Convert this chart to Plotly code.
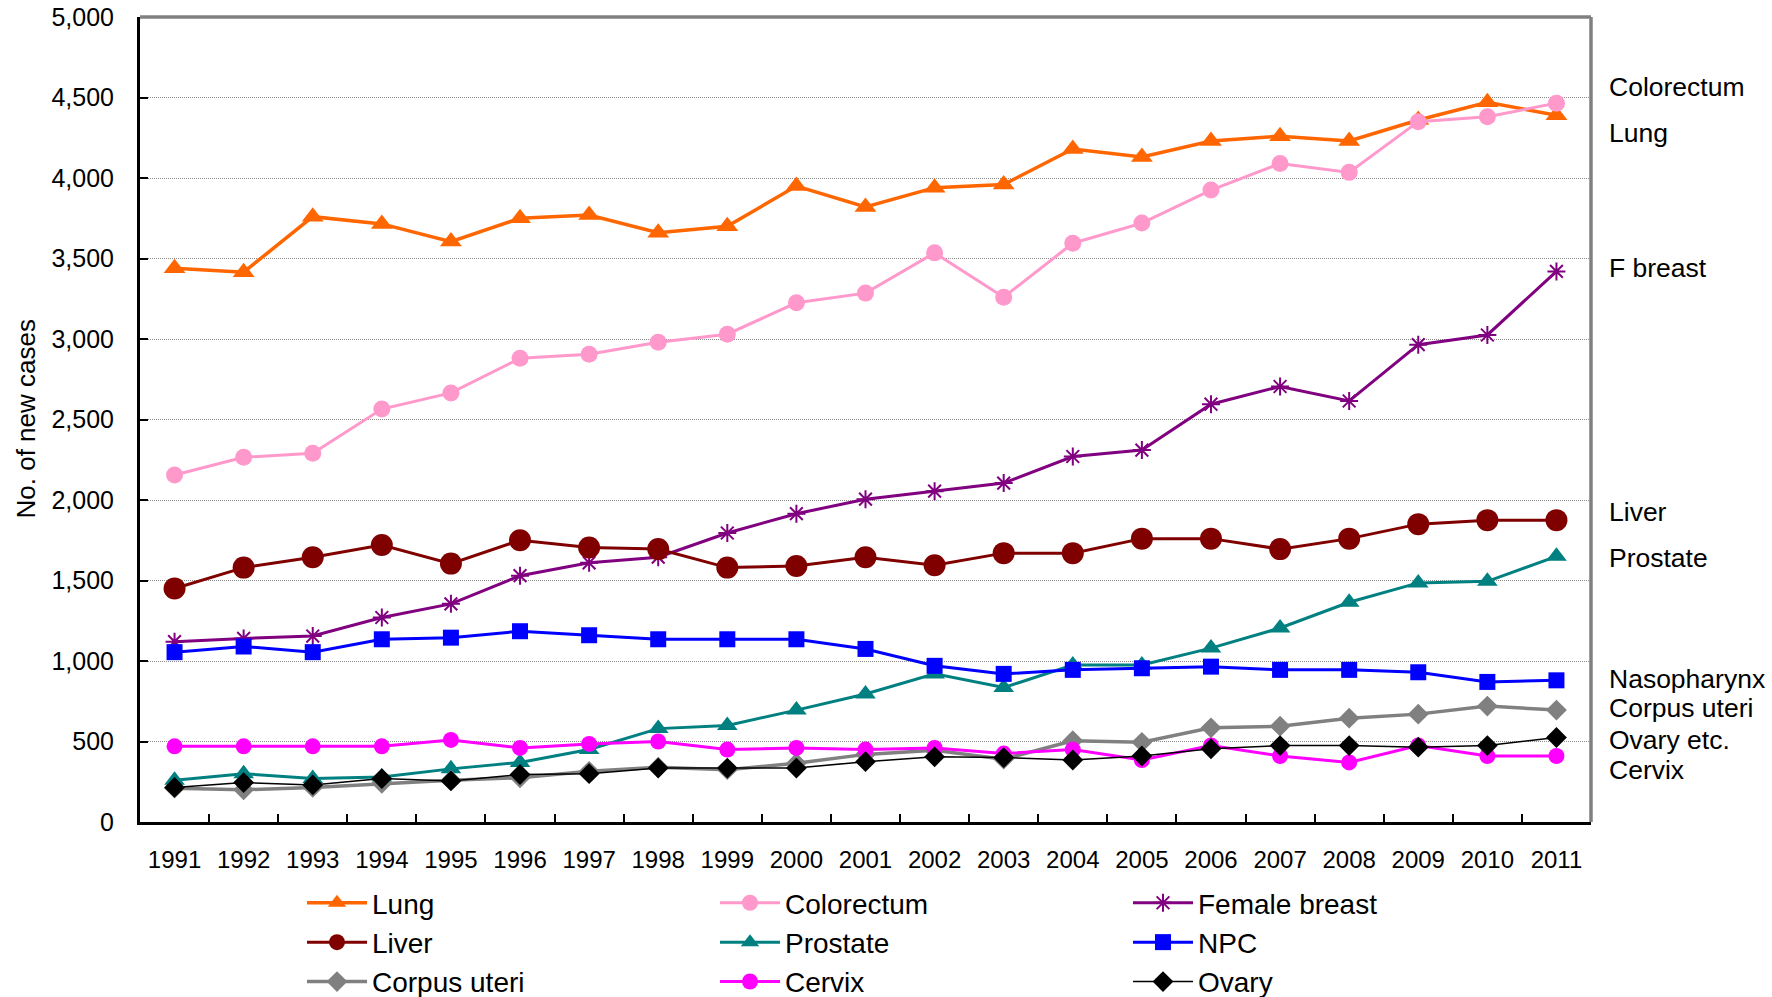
import plotly.graph_objects as go

years = [str(y) for y in range(1991, 2012)]

lung = [3440, 3415, 3760, 3715, 3605, 3750, 3770, 3660, 3700, 3950, 3820,
        3940, 3960, 4180, 4130, 4230, 4260, 4230, 4360, 4470, 4390]
colorectum = [2155, 2265, 2290, 2565, 2665, 2880, 2905, 2980, 3030, 3225, 3285,
              3535, 3260, 3595, 3720, 3925, 4090, 4035, 4350, 4380, 4465]
female_breast = [1120, 1140, 1155, 1270, 1355, 1530, 1610, 1645, 1795, 1915, 2005,
                 2055, 2105, 2270, 2310, 2595, 2705, 2615, 2965, 3025, 3420]
liver = [1450, 1580, 1645, 1720, 1605, 1750, 1705, 1695, 1580, 1590, 1645,
         1595, 1670, 1670, 1760, 1760, 1695, 1760, 1850, 1875, 1875]
prostate = [260, 300, 270, 280, 330, 370, 450, 580, 600, 695, 795,
            920, 835, 975, 975, 1080, 1205, 1365, 1485, 1495, 1650]
npc = [1055, 1090, 1055, 1135, 1145, 1185, 1160, 1135, 1135, 1135, 1075,
       970, 920, 945, 955, 965, 945, 945, 930, 870, 880]
corpus_uteri = [210, 200, 215, 240, 260, 275, 315, 340, 325, 365, 420,
                445, 390, 505, 495, 585, 595, 645, 670, 720, 695]
cervix = [470, 470, 470, 470, 510, 460, 485, 500, 450, 460, 450,
          460, 425, 450, 385, 475, 410, 370, 475, 410, 410]
ovary = [215, 245, 230, 270, 255, 295, 300, 335, 335, 335, 375,
         405, 400, 385, 410, 455, 475, 475, 465, 475, 525]

# name, values, colour, marker symbol, marker size, line width
series = [
    ("Lung", lung, "#FF6600", "triangle-up", 19, 3.5),
    ("Colorectum", colorectum, "#FF99CC", "circle", 17, 3),
    ("Female breast", female_breast, "#800080", "asterisk-open", 15, 3),
    ("Liver", liver, "#800000", "circle", 22, 3),
    ("Prostate", prostate, "#008080", "triangle-up", 18, 3),
    ("NPC", npc, "#0000FF", "square", 16, 3),
    ("Corpus uteri", corpus_uteri, "#808080", "diamond", 16, 3.5),
    ("Cervix", cervix, "#FF00FF", "circle", 16, 3),
    ("Ovary", ovary, "#000000", "diamond", 16, 1.5),
]

# end-of-line labels on the right: text and vertical position (data units)
side_labels = ["Colorectum", "Lung", "F breast", "Liver", "Prostate",
               "Nasopharynx", "Corpus uteri", "Ovary etc.", "Cervix"]
side_label_y = [4565, 4280, 3441, 1925, 1640, 888, 708, 509, 323]

FONT = "Liberation Sans, Arial, sans-serif"

fig = go.Figure()
for name, vals, color, symbol, size, lw in series:
    if symbol == "asterisk-open":
        marker = dict(symbol=symbol, size=size, color=color,
                      line=dict(color=color, width=2))
    else:
        marker = dict(symbol=symbol, size=size, color=color,
                      line=dict(width=0))
    fig.add_trace(go.Scatter(
        x=years, y=vals, name=name, mode="lines+markers",
        line=dict(color=color, width=lw), marker=marker,
    ))

W, H = 1772, 997
L, R, T, B = 140, 181, 17, 175
pw = W - L - R

annotations = [
    dict(text=t, x=(1607 - L) / pw, xref="paper", y=v, yref="y",
         xanchor="left", yanchor="middle", showarrow=False,
         font=dict(family=FONT, size=26.5, color="black"))
    for t, v in zip(side_labels, side_label_y)
]
annotations.append(dict(
    text="No. of new cases", x=(25 - L) / pw, xref="paper", y=0.5, yref="paper",
    xanchor="center", yanchor="middle", textangle=-90, showarrow=False,
    font=dict(family=FONT, size=26, color="black")))

fig.update_layout(
    width=W, height=H,
    margin=dict(l=L, r=R, t=T, b=B, pad=0, autoexpand=False),
    paper_bgcolor="white", plot_bgcolor="white",
    font=dict(family=FONT, color="black"),
    showlegend=True,
    legend=dict(
        orientation="h", x=(302 - L) / pw, xanchor="left",
        y=-0.0696, yanchor="top",
        entrywidth=338, entrywidthmode="pixels", itemwidth=60,
        font=dict(family=FONT, size=28, color="black"),
        bgcolor="rgba(0,0,0,0)", traceorder="normal",
    ),
    xaxis=dict(
        type="category", range=[-0.5, 20.5], tickson="boundaries",
        ticks="inside", ticklen=8, tickwidth=2, tickcolor="black",
        showline=True, linecolor="black", linewidth=3,
        showgrid=False, zeroline=False,
        tickfont=dict(family=FONT, size=24, color="black"),
        ticklabelstandoff=14,
    ),
    yaxis=dict(
        range=[0, 5000], dtick=500, tickformat=",d",
        ticks="inside", ticklen=8, tickwidth=2, tickcolor="black",
        showline=True, linecolor="black", linewidth=3,
        showgrid=True, gridcolor="#8c8c8c", gridwidth=1, griddash="1px,1px",
        zeroline=False,
        tickfont=dict(family=FONT, size=25, color="black"),
        ticklabelstandoff=18,
    ),
    annotations=annotations,
    shapes=[
        dict(type="line", xref="paper", yref="paper", x0=0, x1=1, y0=1, y1=1,
             line=dict(color="#808080", width=3.5), layer="above"),
        dict(type="line", xref="paper", yref="paper", x0=1, x1=1, y0=0, y1=1,
             line=dict(color="#808080", width=3.5), layer="above"),
    ],
)

fig.write_html("out.html")
